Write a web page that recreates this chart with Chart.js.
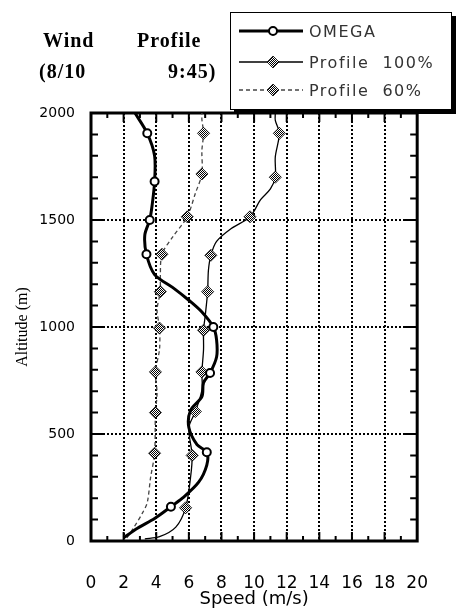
<!DOCTYPE html>
<html>
<head>
<meta charset="utf-8">
<title>Wind Profile</title>
<script src="https://cdn.jsdelivr.net/npm/chart.js@4.4.0/dist/chart.umd.min.js"></script>
<style>
    body { margin: 0; background: #fff; }
    #wrap { position: relative; width: 460px; height: 610px; overflow: hidden; }
    #windChart { position: absolute; left: 0; top: 0; }
    .title { position: absolute; font: bold 20px "Liberation Serif", serif; line-height: 20px; letter-spacing: 1px; color: #000; white-space: nowrap; }
    #legend { position: absolute; left: 230px; top: 12px; width: 220px; height: 96px; border: 1px solid #000; box-shadow: 4px 4px 0 #000; background: #fff; }
    .legend-row { position: absolute; left: 0; height: 20px; display: flex; align-items: center; }
    .legend-row svg { display: block; }
    .legend-row span { font: 16px "DejaVu Sans", sans-serif; letter-spacing: 1.5px; color: #333; white-space: pre; margin-left: 4px; }
</style>
</head>
<body>
<div id="wrap">
    <canvas id="windChart" width="460" height="610"></canvas>
    <span class="title" style="left:43px; top:30px;">Wind</span>
    <span class="title" style="left:137px; top:30px;">Profile</span>
    <span class="title" style="left:39px; top:61px;">(8/10</span>
    <span class="title" style="left:168px; top:61px;">9:45)</span>
    <div id="legend"></div>
</div>
<script>
// Altitude profiles: speed (m/s) at each altitude (m)
const seriesNames = ['OMEGA', 'Profile  100%', 'Profile  60%'];

const omegaSpeed = [2.0, 2.85, 3.9, 4.9, 5.6, 6.6, 7.1, 7.1, 6.5, 6.0, 6.1, 6.8, 6.9, 7.3, 7.7, 7.7, 7.5, 6.8, 6.0, 5.0, 3.9, 3.4, 3.3, 3.6, 3.75, 3.9, 3.9, 3.45, 2.7];
const omegaAlt   = [15, 60, 105, 160, 200, 275, 355, 415, 450, 530, 610, 675, 740, 785, 860, 940, 1000, 1070, 1125, 1185, 1245, 1340, 1430, 1500, 1570, 1680, 1800, 1905, 2000];
const omegaMarks = [160, 415, 785, 1000, 1340, 1500, 1680, 1905];

const fullSpeed = [3.3, 4.2, 5.2, 5.8, 6.1, 6.2, 6.0, 6.4, 6.8, 6.8, 6.9, 6.9, 7.0, 7.15, 7.2, 7.35, 7.7, 8.6, 9.75, 10.4, 11.0, 11.3, 11.3, 11.55, 11.3, 11.3];
const fullAlt   = [10, 20, 65, 155, 295, 400, 530, 605, 705, 790, 895, 985, 1050, 1165, 1265, 1335, 1400, 1460, 1515, 1595, 1645, 1700, 1795, 1905, 1965, 2000];
const fullMarks = [155, 400, 605, 790, 985, 1165, 1335, 1515, 1700, 1905];

const partSpeed = [2.2, 2.6, 3.15, 3.45, 3.65, 3.9, 3.95, 4.05, 3.95, 4.2, 4.2, 4.05, 4.25, 4.25, 4.35, 5.0, 5.9, 6.4, 6.8, 6.8, 6.9, 6.8, 6.8];
const partAlt   = [15, 60, 130, 180, 295, 410, 600, 690, 790, 895, 995, 1080, 1165, 1235, 1340, 1420, 1515, 1625, 1715, 1825, 1905, 1970, 2000];
const partMarks = [410, 600, 790, 995, 1165, 1340, 1515, 1715, 1905];

const speedTicks = [0, 2, 4, 6, 8, 10, 12, 14, 16, 18, 20];
const altTicks = [0, 500, 1000, 1500, 2000];

// Checkered fill for the profile markers
function makeHatch() {
    const c = document.createElement('canvas');
    c.width = 2; c.height = 2;
    const g = c.getContext('2d');
    g.fillStyle = '#fff';
    g.fillRect(0, 0, 2, 2);
    g.fillStyle = '#000';
    g.fillRect(0, 0, 1, 1);
    g.fillRect(1, 1, 1, 1);
    return g.createPattern(c, 'repeat');
}

function toPoints(speed, alt) {
    return speed.map((s, i) => ({ x: s, y: alt[i] }));
}

// Only some samples carry a marker
function markerRadius(alt, marks, r) {
    return ctx => marks.includes(alt[ctx.dataIndex]) ? r : 0;
}

// Frame and inward minor ticks on all four sides
const frameTicks = {
    id: 'frameTicks',
    beforeDatasetsDraw(chart) {
        const { ctx, chartArea: a, scales: { x, y } } = chart;
        ctx.save();
        ctx.strokeStyle = '#000';
        ctx.lineWidth = 2;
        ctx.beginPath();
        for (let v = 1; v < 20; v++) {
            const px = x.getPixelForValue(v);
            const len = v % 2 === 0 ? 9 : 5;
            ctx.moveTo(px, a.bottom); ctx.lineTo(px, a.bottom - len);
            ctx.moveTo(px, a.top); ctx.lineTo(px, a.top + len);
        }
        for (let v = 100; v < 2000; v += 100) {
            const py = y.getPixelForValue(v);
            const len = v % 500 === 0 ? 14 : 7;
            ctx.moveTo(a.left, py); ctx.lineTo(a.left + len, py);
            ctx.moveTo(a.right, py); ctx.lineTo(a.right - len, py);
        }
        ctx.stroke();
        ctx.lineWidth = 3;
        ctx.strokeRect(a.left, a.top, a.right - a.left, a.bottom - a.top);
        ctx.restore();
    }
};

const hatch = makeHatch();

const datasets = [
    {
        label: seriesNames[0],
        data: toPoints(omegaSpeed, omegaAlt),
        showLine: true,
        borderColor: '#000',
        borderWidth: 3,
        tension: 0.3,
        pointStyle: 'circle',
        pointRadius: markerRadius(omegaAlt, omegaMarks, 4),
        pointBorderWidth: 2,
        pointBorderColor: '#000',
        pointBackgroundColor: '#fff'
    },
    {
        label: seriesNames[1],
        data: toPoints(fullSpeed, fullAlt),
        showLine: true,
        borderColor: '#000',
        borderWidth: 1.3,
        tension: 0.3,
        pointStyle: 'rectRot',
        pointRadius: markerRadius(fullAlt, fullMarks, 6),
        pointBorderWidth: 0.8,
        pointBorderColor: '#000',
        pointBackgroundColor: hatch
    },
    {
        label: seriesNames[2],
        data: toPoints(partSpeed, partAlt),
        showLine: true,
        borderColor: '#444',
        borderWidth: 1.3,
        borderDash: [4, 3],
        tension: 0.3,
        pointStyle: 'rectRot',
        pointRadius: markerRadius(partAlt, partMarks, 6),
        pointBorderWidth: 0.8,
        pointBorderColor: '#000',
        pointBackgroundColor: hatch
    }
];

Chart.defaults.font.family = '"DejaVu Sans", sans-serif';
Chart.defaults.color = '#000';

const ctx = document.getElementById('windChart').getContext('2d');
const windChart = new Chart(ctx, {
    type: 'scatter',
    data: { datasets: datasets },
    options: {
        responsive: false,
        animation: false,
        layout: { padding: { top: 113, right: 38, bottom: 0, left: 0 } },
        scales: {
            x: {
                type: 'linear',
                min: speedTicks[0],
                max: speedTicks[speedTicks.length - 1],
                afterBuildTicks: scale => { scale.ticks = speedTicks.map(v => ({ value: v })); },
                afterFit: scale => { scale.height = 69; },
                ticks: { font: { size: 17 }, padding: 32, maxRotation: 0, autoSkip: false, callback: v => String(v) },
                grid: {
                    drawTicks: false,
                    lineWidth: 2,
                    color: c => (c.tick && (c.tick.value === 0 || c.tick.value === 20)) ? 'rgba(0,0,0,0)' : '#000'
                },
                border: { display: false, dash: [2, 2] },
                title: { display: true, text: 'Speed (m/s)', font: { size: 18 }, padding: { top: 0, bottom: 0 } }
            },
            y: {
                type: 'linear',
                min: altTicks[0],
                max: altTicks[altTicks.length - 1],
                afterBuildTicks: scale => { scale.ticks = altTicks.map(v => ({ value: v })); },
                afterFit: scale => { scale.width = 91; },
                ticks: { font: { size: 14 }, padding: 16, callback: v => String(v) },
                grid: {
                    drawTicks: false,
                    lineWidth: 2,
                    color: c => (c.tick && (c.tick.value === 0 || c.tick.value === 2000)) ? 'rgba(0,0,0,0)' : '#000'
                },
                border: { display: false, dash: [2, 2] },
                title: { display: true, text: 'Altitude (m)', font: { size: 16, family: '"Liberation Serif", serif' }, padding: { top: 13, bottom: 0 } }
            }
        },
        plugins: {
            legend: { display: false },
            tooltip: { enabled: false }
        }
    },
    plugins: [frameTicks]
});

// Legend box built from the datasets
function buildLegend(chart) {
    const box = document.getElementById('legend');
    const rowTops = [8, 39, 67];
    chart.data.datasets.forEach((ds, i) => {
        const row = document.createElement('div');
        row.className = 'legend-row';
        row.style.top = rowTops[i] + 'px';
        const dash = ds.borderDash ? `stroke-dasharray="${ds.borderDash.join(',')}"` : '';
        let marker;
        if (ds.pointStyle === 'circle') {
            marker = `<circle cx="42" cy="10" r="4" fill="#fff" stroke="#000" stroke-width="2"/>`;
        } else {
            marker = `<polygon points="42,4 48,10 42,16 36,10" fill="url(#hatch${i})" stroke="#000" stroke-width="0.8"/>`;
        }
        row.innerHTML = `
            <svg width="74" height="20">
                <defs><pattern id="hatch${i}" width="2" height="2" patternUnits="userSpaceOnUse">
                    <rect width="2" height="2" fill="#fff"/><rect width="1" height="1" fill="#000"/><rect x="1" y="1" width="1" height="1" fill="#000"/>
                </pattern></defs>
                <line x1="8" y1="10" x2="72" y2="10" stroke="${ds.borderColor}" stroke-width="${ds.borderWidth}" ${dash}/>
                ${marker}
            </svg>
            <span>${ds.label}</span>`;
        box.appendChild(row);
    });
}

buildLegend(windChart);
</script>
</body>
</html>
